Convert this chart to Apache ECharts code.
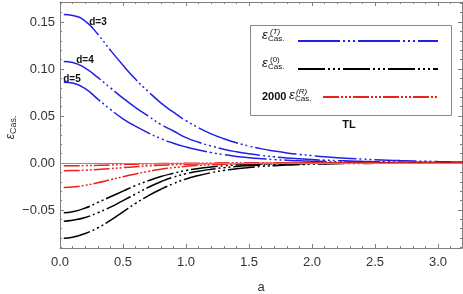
<!DOCTYPE html>
<html>
<head>
<meta charset="utf-8">
<script src="https://cdn.jsdelivr.net/npm/echarts@6/dist/echarts.min.js"></script>
<style>html,body{margin:0;padding:0;background:#fff}#c{width:463px;height:294px}</style>
</head>
<body>
<div id="c"></div>
<script>
// ---- data ----
const aVals = [0.03,0.1,0.2,0.3,0.4,0.5,0.6,0.7,0.8,0.9,1.0,1.1,1.2,1.3,1.4,1.5,1.6,1.7,1.8,1.9,2.0,2.1,2.2,2.3,2.4,2.5,2.6,2.7,2.8,2.9,3.0,3.1,3.2];

// thermal part, d = 3, 4, 5 (blue)
const epsT_d3 = [0.158,0.157,0.151,0.137,0.120,0.104,0.089,0.076,0.064,0.054,0.045,0.0375,0.031,0.0258,0.0215,0.018,0.015,0.0127,0.0107,0.0091,0.0078,0.0066,0.0056,0.0048,0.0041,0.0035,0.003,0.0025,0.0021,0.0018,0.0015,0.0013,0.0011];
const epsT_d4 = [0.108,0.107,0.101,0.091,0.080,0.069,0.059,0.050,0.041,0.034,0.027,0.022,0.018,0.0146,0.0119,0.0097,0.0079,0.0065,0.0053,0.0044,0.0036,0.003,0.0025,0.0021,0.0017,0.0014,0.0012,0.001,0.0008,0.0007,0.0006,0.0005,0.0004];
const epsT_d5 = [0.086,0.085,0.079,0.068,0.057,0.047,0.039,0.032,0.026,0.021,0.017,0.0137,0.011,0.0088,0.007,0.0056,0.0045,0.0036,0.0029,0.0023,0.0019,0.0015,0.0012,0.001,0.0008,0.0006,0.0005,0.0004,0.0003,0.0003,0.0002,0.0002,0.0001];

// zero-temperature part (black)
const eps0_1 = [-0.053,-0.052,-0.048,-0.042,-0.036,-0.030,-0.024,-0.019,-0.0145,-0.011,-0.008,-0.0058,-0.0042,-0.003,-0.0022,-0.0016,-0.0012,-0.0009,-0.0007,-0.0005,-0.0004,-0.0003,-0.0003,-0.0002,-0.0002,-0.0001,-0.0001,-0.0001,-0.0001,-0.0001,-0.0001,-0.0001,-0.0001];
const eps0_2 = [-0.062,-0.061,-0.058,-0.053,-0.047,-0.040,-0.033,-0.026,-0.020,-0.015,-0.0115,-0.0088,-0.0067,-0.005,-0.0038,-0.0029,-0.0022,-0.0016,-0.0012,-0.0009,-0.0007,-0.0005,-0.0004,-0.0003,-0.0002,-0.0002,-0.0001,-0.0001,-0.0001,-0.0001,-0.0001,-0.0001,-0.0001];
const eps0_3 = [-0.080,-0.079,-0.075,-0.069,-0.061,-0.052,-0.043,-0.035,-0.028,-0.022,-0.017,-0.0133,-0.0103,-0.008,-0.0062,-0.0048,-0.0037,-0.0029,-0.0022,-0.0017,-0.0013,-0.001,-0.0008,-0.0006,-0.0005,-0.0004,-0.0003,-0.0002,-0.0002,-0.0001,-0.0001,-0.0001,-0.0001];

// 2000 x radiative part (red)
const epsR_1 = [-0.003,-0.003,-0.0028,-0.0025,-0.0021,-0.0017,-0.0013,-0.001,-0.0007,-0.0005,-0.0004,-0.0003,-0.0002,-0.0001,-0.0001,-0.0001,-0.0001,-0.0001,-0.0001,-0.0001,-0.0001,-0.0001,-0.0001,-0.0001,-0.0001,-0.0001,-0.0001,-0.0001,-0.0001,-0.0001,-0.0001,-0.0001,-0.0001];
const epsR_2 = [-0.0082,-0.0081,-0.0077,-0.0069,-0.006,-0.005,-0.004,-0.0031,-0.0024,-0.0018,-0.0013,-0.001,-0.0007,-0.0005,-0.0004,-0.0003,-0.0002,-0.0002,-0.0001,-0.0001,-0.0001,-0.0001,-0.0001,-0.0001,-0.0001,-0.0001,-0.0001,-0.0001,-0.0001,-0.0001,-0.0001,-0.0001,-0.0001];
const epsR_3 = [-0.026,-0.0255,-0.0238,-0.021,-0.0178,-0.0146,-0.0117,-0.009,-0.0068,-0.005,-0.0036,-0.0026,-0.0019,-0.0013,-0.0009,-0.0006,-0.0004,-0.0003,-0.0002,-0.0001,-0.0001,-0.0001,-0.0001,-0.0001,-0.0001,-0.0001,-0.0001,-0.0001,-0.0001,-0.0001,-0.0001,-0.0001,-0.0001];

// ticks
const xMajorTicks = [0,0.5,1.0,1.5,2.0,2.5,3.0];
const xMinorTicks = [0.1,0.2,0.3,0.4,0.6,0.7,0.8,0.9,1.1,1.2,1.3,1.4,1.6,1.7,1.8,1.9,2.1,2.2,2.3,2.4,2.6,2.7,2.8,2.9,3.1];
const yMajorTicks = [-0.05,0,0.05,0.10,0.15];
const yMinorTicks = [-0.09,-0.08,-0.07,-0.06,-0.04,-0.03,-0.02,-0.01,0.01,0.02,0.03,0.04,0.06,0.07,0.08,0.09,0.11,0.12,0.13,0.14,0.16,0.17];

// ---- chart ----
const FONT = 'Liberation Sans, Arial, sans-serif';
const BLUE = '#2020e6', BLACK = '#000000', RED = '#e8221c';
const DASH_T = [42,3,2,3,2,3,2,3];
const DASH_0 = [27,3,2,3,2,3,2,3];
const DASH_R = [16,2,2,2,2,2,2,2];

const pairs = arr => aVals.map((a,i)=>[a,arr[i]]);
function mk(arr,color,dash,extra){
  return Object.assign({
    type:'line', data:pairs(arr), showSymbol:false, smooth:0.5,
    lineStyle:{color:color,width:1.5,type:dash,cap:'butt'}, silent:true, animation:false, z:3
  },extra||{});
}
const fmt = v => {
  let s = Math.abs(v) < 1e-9 ? '0.00' : v.toFixed(2);
  return s.replace('-','\u2212');
};
const xfmt = v => v.toFixed(1);

const axisCommon = {min:0, max:3.19, type:'value', splitLine:{show:false}};
const yCommon = {min:-0.0905, max:0.1713, type:'value', splitLine:{show:false}};
const lineC = '#808080';

const option = {
  animation:false,
  grid:{left:60, right:1, top:2, bottom:46, containLabel:false},
  xAxis:[
    Object.assign({}, axisCommon, {position:'bottom',
      axisLine:{show:true,onZero:false,lineStyle:{color:lineC,width:1}},
      axisTick:{show:true,inside:true,length:4,customValues:xMajorTicks,lineStyle:{color:lineC}},
      axisLabel:{show:true,customValues:xMajorTicks,formatter:xfmt,color:'#333',fontSize:13,fontFamily:FONT,margin:8},
      name:''}),
    Object.assign({}, axisCommon, {position:'bottom',
      axisLine:{show:false,onZero:false},
      axisTick:{show:true,inside:true,length:2,customValues:xMinorTicks,lineStyle:{color:lineC}},
      axisLabel:{show:false}}),
    Object.assign({}, axisCommon, {position:'top',
      axisLine:{show:true,onZero:false,lineStyle:{color:lineC,width:1}},
      axisTick:{show:true,inside:true,length:4,customValues:xMajorTicks,lineStyle:{color:lineC}},
      axisLabel:{show:false}}),
    Object.assign({}, axisCommon, {position:'top',
      axisLine:{show:false,onZero:false},
      axisTick:{show:true,inside:true,length:2,customValues:xMinorTicks,lineStyle:{color:lineC}},
      axisLabel:{show:false}})
  ],
  yAxis:[
    Object.assign({}, yCommon, {position:'left',
      axisLine:{show:true,onZero:false,lineStyle:{color:lineC,width:1}},
      axisTick:{show:true,inside:true,length:4,customValues:yMajorTicks,lineStyle:{color:lineC}},
      axisLabel:{show:true,customValues:yMajorTicks,formatter:fmt,color:'#333',fontSize:13,fontFamily:FONT,margin:5}}),
    Object.assign({}, yCommon, {position:'left',
      axisLine:{show:false,onZero:false},
      axisTick:{show:true,inside:true,length:2,customValues:yMinorTicks,lineStyle:{color:lineC}},
      axisLabel:{show:false}}),
    Object.assign({}, yCommon, {position:'right',
      axisLine:{show:true,onZero:false,lineStyle:{color:lineC,width:1}},
      axisTick:{show:true,inside:true,length:4,customValues:yMajorTicks,lineStyle:{color:lineC}},
      axisLabel:{show:false}}),
    Object.assign({}, yCommon, {position:'right',
      axisLine:{show:false,onZero:false},
      axisTick:{show:true,inside:true,length:2,customValues:yMinorTicks,lineStyle:{color:lineC}},
      axisLabel:{show:false}})
  ],
  series:[
    mk(epsT_d3,BLUE,DASH_T,{markLine:{silent:true,symbol:'none',label:{show:false},animation:false,
      lineStyle:{color:'#909090',width:1,type:'solid'},data:[{yAxis:0}]}}),
    mk(epsT_d4,BLUE,DASH_T),
    mk(epsT_d5,BLUE,DASH_T),
    mk(eps0_1,BLACK,DASH_0),
    mk(eps0_2,BLACK,DASH_0),
    mk(eps0_3,BLACK,DASH_0),
    mk(epsR_1,RED,DASH_R),
    mk(epsR_2,RED,DASH_R),
    mk(epsR_3,RED,DASH_R)
  ],
  graphic:[
    // legend box
    {type:'rect', shape:{x:250.5,y:25.5,width:201,height:90}, style:{fill:'#fff',stroke:'#8a8a8a',lineWidth:1}, z:10},
    {type:'line', shape:{x1:298,y1:41,x2:438,y2:41}, style:{stroke:BLUE,lineWidth:2,lineDash:DASH_T}, z:11},
    {type:'line', shape:{x1:298,y1:69,x2:438,y2:69}, style:{stroke:BLACK,lineWidth:2,lineDash:DASH_0}, z:11},
    {type:'line', shape:{x1:323,y1:97,x2:438,y2:97}, style:{stroke:RED,lineWidth:2,lineDash:DASH_R}, z:11},
    // legend labels
    {type:'text', x:262, y:42, style:{text:'\u03b5',font:'italic 13px '+FONT,fill:'#111',verticalAlign:'bottom'}, z:11},
    {type:'text', x:270, y:36, style:{text:'(T)',font:'italic 8px '+FONT,fill:'#111',verticalAlign:'bottom'}, z:11},
    {type:'text', x:268, y:43, style:{text:'Cas.',font:'8px '+FONT,fill:'#111',verticalAlign:'bottom'}, z:11},
    {type:'text', x:262, y:70, style:{text:'\u03b5',font:'italic 13px '+FONT,fill:'#111',verticalAlign:'bottom'}, z:11},
    {type:'text', x:270, y:64, style:{text:'(0)',font:'8px '+FONT,fill:'#111',verticalAlign:'bottom'}, z:11},
    {type:'text', x:268, y:71, style:{text:'Cas.',font:'8px '+FONT,fill:'#111',verticalAlign:'bottom'}, z:11},
    {type:'text', x:262, y:102, style:{text:'2000',font:'bold 11px '+FONT,fill:'#111',verticalAlign:'bottom'}, z:11},
    {type:'text', x:289, y:102, style:{text:'\u03b5',font:'italic 13px '+FONT,fill:'#111',verticalAlign:'bottom'}, z:11},
    {type:'text', x:296, y:96, style:{text:'(R)',font:'italic 8px '+FONT,fill:'#111',verticalAlign:'bottom'}, z:11},
    {type:'text', x:295, y:103, style:{text:'Cas.',font:'8px '+FONT,fill:'#111',verticalAlign:'bottom'}, z:11},
    {type:'text', x:349, y:125, style:{text:'TL',font:'bold 11px '+FONT,fill:'#111',align:'center',verticalAlign:'middle'}, z:11},
    // curve labels
    {type:'text', x:98, y:22, style:{text:'d=3',font:'bold 10px '+FONT,fill:'#111',align:'center',verticalAlign:'middle'}, z:11},
    {type:'text', x:85, y:60, style:{text:'d=4',font:'bold 10px '+FONT,fill:'#111',align:'center',verticalAlign:'middle'}, z:11},
    {type:'text', x:72, y:79, style:{text:'d=5',font:'bold 10px '+FONT,fill:'#111',align:'center',verticalAlign:'middle'}, z:11},
    // axis titles
    {type:'text', x:261, y:287, style:{text:'a',font:'13px '+FONT,fill:'#333',align:'center',verticalAlign:'middle'}, z:11},
    {type:'group', x:11, y:131, rotation:Math.PI/2, z:11, children:[
      {type:'text', x:-3, y:0, style:{text:'\u03b5',font:'italic 12px '+FONT,fill:'#333',align:'right',verticalAlign:'middle'}},
      {type:'text', x:-3, y:3, style:{text:'Cas.',font:'9px '+FONT,fill:'#333',align:'left',verticalAlign:'middle'}}
    ]}
  ]
};
const chart = echarts.init(document.getElementById('c'), null, {renderer:'canvas'});
chart.setOption(option);
</script>
</body>
</html>
